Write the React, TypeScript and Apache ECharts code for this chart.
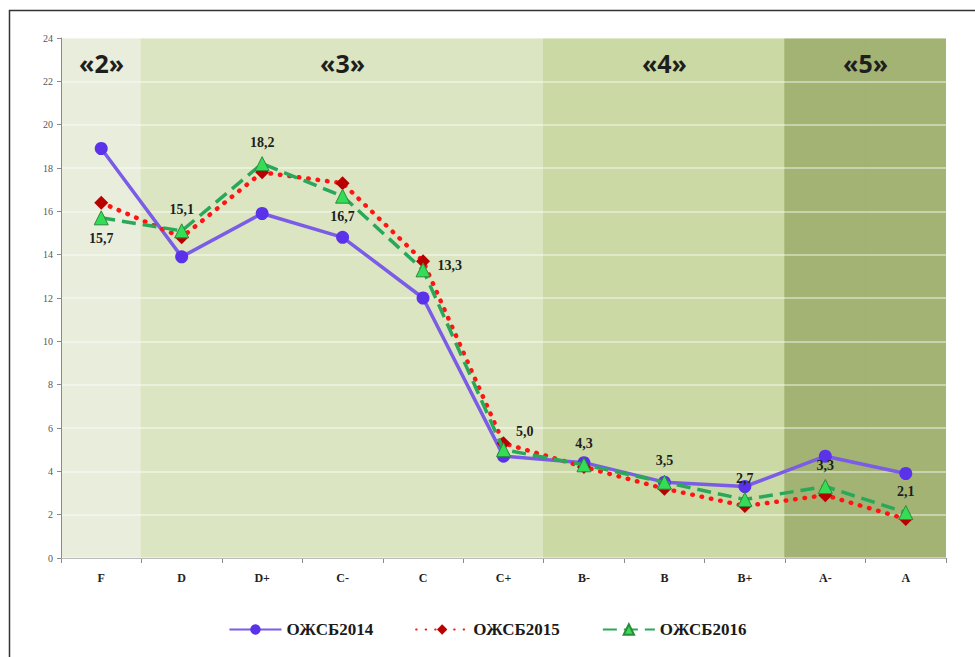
import React, { useEffect, useRef } from "react";
import * as echarts from "echarts";

const categories = ["F", "D", "D+", "C-", "C", "C+", "B-", "B", "B+", "A-", "A"];
const series2014 = [18.9, 13.9, 15.9, 14.8, 12.0, 4.7, 4.4, 3.5, 3.3, 4.7, 3.9];
const series2015 = [16.4, 14.8, 17.8, 17.3, 13.7, 5.3, 4.2, 3.2, 2.4, 2.9, 1.8];
const series2016 = [15.7, 15.1, 18.2, 16.7, 13.3, 5.0, 4.3, 3.5, 2.7, 3.3, 2.1];
const seriesNames = ["ОЖСБ2014", "ОЖСБ2015", "ОЖСБ2016"];
const yTicks = [0, 2, 4, 6, 8, 10, 12, 14, 16, 18, 20, 22, 24];
// grade bands: which grade each category belongs to
const bandOfCategory = ["«2»", "«3»", "«3»", "«3»", "«3»", "«3»", "«4»", "«4»", "«4»", "«5»", "«5»"];
const bandColors: Record<string, string> = {
  "«2»": "#e9eddb",
  "«3»": "#dce5c1",
  "«4»": "#cbd9a4",
  "«5»": "#a2b373",
};
// which category carries the band title, and its shift in bands
const bandTitleAt: Record<number, number> = { 0: 0, 3: 0, 7: 0, 9: 0.5 };
const labelPos = ["bottom", "top", "top", "bottom", "right", "right", "top", "top", "top", "top", "top"];

export default function App() {
  const ref = useRef<HTMLDivElement>(null);
  useEffect(() => {
    if (!ref.current) return;
    const chart = echarts.init(ref.current, undefined, { renderer: "svg" });
    const yMax = yTicks[yTicks.length - 1];
    const bandWidth = (975 - 61 - 29) / categories.length;
    const serif = "'Liberation Serif', 'Times New Roman', serif";
    const bgData = categories.map((c, i) => {
      const band = bandOfCategory[i];
      const item: any = {
        value: yMax,
        itemStyle: { color: bandColors[band] },
      };
      if (bandTitleAt[i] !== undefined) {
        item.label = {
          show: true,
          position: "insideTop",
          distance: 12,
          formatter: band,
          offset: [bandTitleAt[i] * bandWidth, 0],
          fontFamily: "'Open Sans', 'Liberation Sans', Arial, sans-serif",
          fontWeight: "bold",
          fontSize: 25,
          color: "#1e1e1e",
        };
      }
      return item;
    });
    const fmt = (p: any) => Number(p.value).toFixed(1).replace(".", ",");
    const greenData = series2016.map((v, i) => {
      const pos = labelPos[i];
      const lab: any = { position: pos };
      if (i === 4) lab.offset = [0, -4];
      if (i === 5) lab.offset = [-2, -18];
      if (pos === "bottom") lab.distance = 6;
      return { value: v, label: lab };
    });
    chart.setOption({
      animation: false,
      backgroundColor: "#ffffff",
      graphic: [
        {
          type: "rect",
          shape: { x: 9.5, y: 10.5, width: 1000, height: 700 },
          style: { fill: "none", stroke: "#333", lineWidth: 1.5 },
          silent: true,
          z: 100,
        },
      ],
      grid: { left: 61, right: 29, top: 38, bottom: 99, containLabel: false },
      legend: {
        bottom: 14,
        left: "center",
        itemGap: 42,
        itemWidth: 52,
        itemHeight: 13,
        data: seriesNames,
        textStyle: { fontFamily: serif, fontWeight: "bold", fontSize: 17, color: "#1a1a1a" },
      },
      xAxis: {
        type: "category",
        data: categories,
        boundaryGap: true,
        axisLine: { lineStyle: { color: "#8a8a8a", width: 1 } },
        axisTick: { show: true, alignWithLabel: false, length: 5, lineStyle: { color: "#8a8a8a" } },
        axisLabel: { fontFamily: serif, fontWeight: "bold", fontSize: 12, color: "#222", margin: 14 },
        splitLine: { show: false },
      },
      yAxis: {
        type: "value",
        min: 0,
        max: yMax,
        interval: 2,
        axisLine: { show: true, lineStyle: { color: "#8a8a8a", width: 1 } },
        axisTick: { show: true, length: 4, lineStyle: { color: "#8a8a8a" } },
        axisLabel: { fontFamily: serif, fontSize: 10, color: "#555", margin: 8 },
        splitLine: { show: true, lineStyle: { color: "rgba(255,255,255,0.55)", width: 1.5 } },
        z: 3,
      },
      series: [
        {
          name: "bands",
          type: "bar",
          data: bgData,
          barWidth: Math.ceil(bandWidth) + 1,
          barGap: "-100%",
          barCategoryGap: "0%",
          silent: true,
          z: 1,
          legendHoverLink: false,
        },
        {
          name: seriesNames[0],
          type: "line",
          data: series2014,
          symbol: "circle",
          symbolSize: 13,
          lineStyle: { color: "#7a5ce6", width: 3.5 },
          itemStyle: { color: "#5a32ea" },
          z: 5,
        },
        {
          name: seriesNames[1],
          type: "line",
          data: series2015,
          symbol: "diamond",
          symbolSize: 14,
          lineStyle: { color: "#ff1414", width: 4.5, type: [0.5, 9], cap: "round" },
          itemStyle: { color: "#b80000" },
          z: 6,
        },
        {
          name: seriesNames[2],
          type: "line",
          data: greenData,
          symbol: "triangle",
          symbolSize: 14,
          lineStyle: { color: "#2aa85a", width: 3.5, type: [14, 7] },
          itemStyle: { color: "#33dd55", borderColor: "#2b8a3c", borderWidth: 1 },
          label: {
            show: true,
            formatter: fmt,
            fontFamily: serif,
            fontWeight: "bold",
            fontSize: 14,
            color: "#1e1e1e",
            distance: 7,
          },
          z: 7,
        },
      ],
    });
    return () => chart.dispose();
  }, []);
  return (
    <div
      ref={ref}
      style={{ position: "absolute", left: 0, top: 0, width: 975, height: 657 }}
    />
  );
}
